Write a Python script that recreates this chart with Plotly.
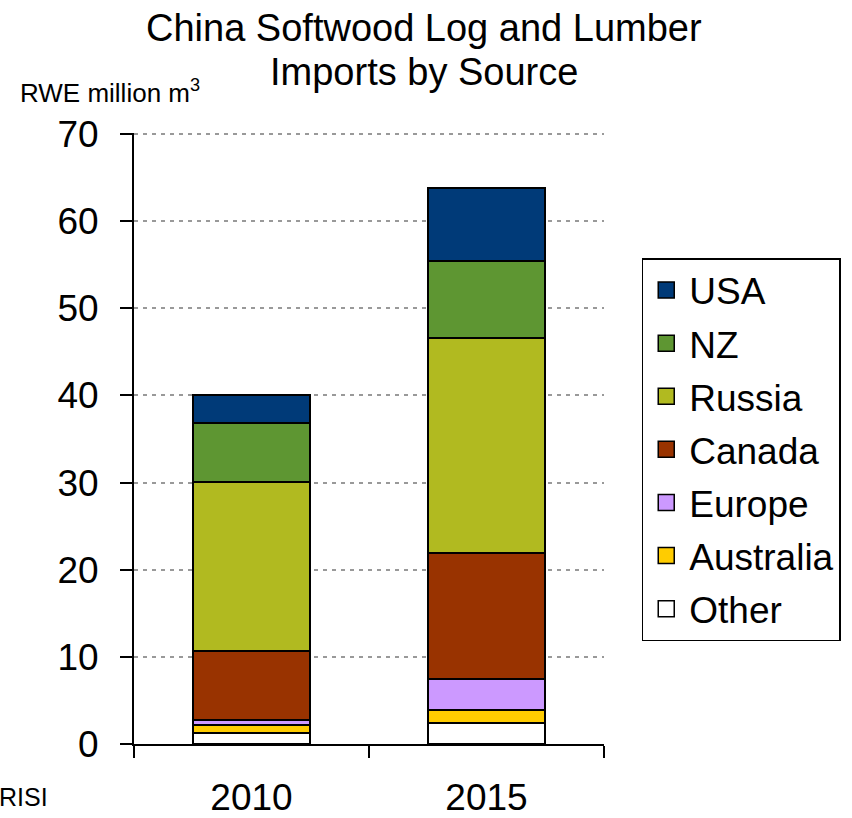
import plotly.graph_objects as go

years = ["2010", "2015"]
series_names = ["Other", "Australia", "Europe", "Canada", "Russia", "NZ", "USA"]
other = [1.25, 2.45]
australia = [0.95, 1.4]
europe = [0.5, 3.65]
canada = [8.0, 14.4]
russia = [19.4, 24.7]
nz = [6.7, 8.8]
usa = [3.2, 8.4]
colors = ["#FFFFFF", "#FFCC00", "#CC99FF", "#993300", "#B1BA20", "#5E9632", "#003A78"]
y_ticks = [0, 10, 20, 30, 40, 50, 60, 70]
title_lines = ["China Softwood Log and Lumber", "Imports by Source"]

values = [other, australia, europe, canada, russia, nz, usa]
FONT = "Liberation Sans, Arial, sans-serif"
n = len(series_names)

fig = go.Figure()
for i, (name, vals, col) in enumerate(zip(series_names, values, colors)):
    fig.add_trace(go.Bar(
        x=years, y=vals, name=name, legendgroup=name, showlegend=False,
        legendrank=1000 + (n - i),
        marker=dict(color=col, line=dict(color="black", width=2)),
    ))
# legend entries with larger square symbols
for i, (name, col) in enumerate(zip(series_names, colors)):
    fig.add_trace(go.Scatter(
        x=[None], y=[None], mode="markers", name=name, legendgroup=name,
        legendrank=1000 + (n - i),
        marker=dict(symbol="square", size=16, color=col,
                    line=dict(color="black", width=1.5)),
    ))

PLOT_H = 744 - 133
fig.update_layout(
    barmode="stack",
    bargap=0.5,
    width=852, height=818,
    margin=dict(l=134, r=247, t=133, b=74),
    paper_bgcolor="white", plot_bgcolor="white",
    font=dict(family=FONT, color="black"),
    legend=dict(x=1.078, xanchor="left", y=(744-258)/PLOT_H, yanchor="top",
                traceorder="grouped", bordercolor="black", borderwidth=1.5,
                font=dict(size=37, family=FONT), tracegroupgap=2,
                bgcolor="white", itemwidth=36),
    showlegend=True,
)
fig.update_xaxes(
    type="category", tickson="boundaries", ticks="outside", ticklen=12,
    tickwidth=2, tickcolor="black", showline=True, linecolor="black",
    linewidth=2, tickfont=dict(size=37, family=FONT), ticklabelstandoff=20,
    showgrid=False, automargin=False,
)
fig.update_yaxes(
    range=[0, 70.12], tickvals=y_ticks, ticks="outside", ticklen=12,
    tickwidth=2, tickcolor="black", showline=True, linecolor="black",
    linewidth=2, tickfont=dict(size=37, family=FONT), ticklabelstandoff=14,
    showgrid=True, gridcolor="#999999", griddash="4px,5px", gridwidth=2,
    zeroline=False, automargin=False,
)
for line, yc in zip(title_lines, [28, 72]):
    fig.add_annotation(text=line, xref="paper", yref="paper",
                       x=(425-134)/471, xanchor="center",
                       y=(744-yc)/PLOT_H, yanchor="middle", showarrow=False,
                       font=dict(size=38, family=FONT))
fig.add_annotation(text="RWE million m<sup>3</sup>", xref="paper", yref="paper",
                   x=(18-134)/471, xanchor="left", y=(744-91)/PLOT_H, yanchor="middle",
                   showarrow=False, font=dict(size=26, family=FONT))
fig.add_annotation(text="RISI", xref="paper", yref="paper",
                   x=(-3-134)/471, xanchor="left", y=-(797-744)/PLOT_H, yanchor="middle",
                   showarrow=False, font=dict(size=25, family=FONT))

fig.write_html("out.html")
